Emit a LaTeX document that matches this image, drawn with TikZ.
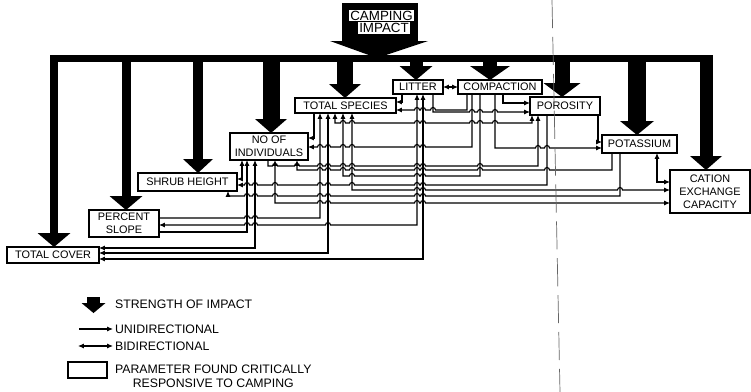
\documentclass[tikz,border=0pt]{standalone}
\usepackage{fontspec}
\setmainfont{Liberation Sans}
\usetikzlibrary{arrows.meta,calc}
\newdimen\px \px=0.02cm
\begin{document}
\begin{tikzpicture}[x=0.02cm, y=-0.02cm]
    % styles
    \tikzstyle{param}=[draw, line width=0.9pt, fill=white, inner sep=0pt, outer sep=0pt, align=center, font=\fontsize{6.2}{7.4}\selectfont]
    \tikzstyle{wire}=[line width=0.65pt, line cap=rect, >={Latex[length=3.4pt,width=3pt]}]
    \tikzstyle{legend}=[inner sep=1pt, align=center, font=\fontsize{7}{8.2}\selectfont]
    \tikzstyle{title}=[fill=white, inner sep=0.7pt, font=\fontsize{7.6}{8}\selectfont]

    \useasboundingbox (0,0) rectangle (751,392);
    \fill[white] (0,0) rectangle (751,392);

    % camping impact and the main bar
    \fill (342,3) rectangle (418,42);
    \fill (330,41) -- (428,41) -- (377,58) -- cycle;
    \node[title] (camping) at (381.5,15.5) {CAMPING};
    \node[title] (impact) at (384,28) {IMPACT};
    \fill (50,55) rectangle (712.5,62);

    % parameters
    \node[param, minimum width=92*\px, minimum height=16*\px] (cover) at (53,255) {TOTAL COVER};
    \node[param, minimum width=70*\px, minimum height=27*\px] (slope) at (124,223.5) {PERCENT\\SLOPE};
    \node[param, minimum width=99*\px, minimum height=18*\px] (shrub) at (187.5,182) {SHRUB HEIGHT};
    \node[param, minimum width=78*\px, minimum height=27*\px] (indiv) at (269,146.5) {NO OF\\INDIVIDUALS};
    \node[param, minimum width=101*\px, minimum height=15*\px] (species) at (345.5,105.5) {TOTAL SPECIES};
    \node[param, minimum width=50*\px, minimum height=14*\px] (litter) at (418,87) {LITTER};
    \node[param, minimum width=84*\px, minimum height=14*\px] (compaction) at (500,87) {COMPACTION};
    \node[param, minimum width=70*\px, minimum height=18*\px] (porosity) at (565,106) {POROSITY};
    \node[param, minimum width=75*\px, minimum height=18*\px] (potassium) at (639.5,144) {POTASSIUM};
    \node[param, minimum width=80*\px, minimum height=43*\px] (cation) at (710,191.5) {CATION\\EXCHANGE\\CAPACITY};

    % strength of impact
    \foreach \n/\x/\w/\hw in {cover/54/8/33, slope/126/9/33, shrub/198/10/30, indiv/271/17/32,
        species/345/16/32, litter/416/13/33, compaction/490/14/40, porosity/562/15/37,
        potassium/637/18/34, cation/706/13/32} {
        \fill (\n.north -| \x,0) -- ++(\hw/2,-14) -- ++(-\hw,0) -- cycle;
        \draw[line width=\w*\px] (\x,55) -- ($(\n.north -| \x,0)+(0,-13.5)$);
    }

    % links to total cover
    \draw[wire,<->] (cover.east |- 0,248) -- (255,248) -- (indiv.south -| 255,0);
    \draw[wire,<->] (cover.east |- 0,253) -- (328,253) -- (species.south -| 328,0);
    \draw[wire,<->] (cover.east |- 0,259) -- (423,259) -- (litter.south -| 423,0);
    % links to percent slope
    \draw[wire,->] (slope.east |- 0,218) \foreach \h in {247,255} {-- (\h-2.5,218) arc[start angle=180,end angle=360,radius=2.5]} -- (320,218) -- (species.south -| 320,0);
    \draw[wire,<->] (slope.east |- 0,225) \foreach \h in {247,255,328} {-- (\h-2.5,225) arc[start angle=180,end angle=360,radius=2.5]} -- (417,225) -- (litter.south -| 417,0);
    \draw[wire,->] (slope.east |- 0,232) -- (247,232) -- (indiv.south -| 247,0);
    % links to shrub height
    \draw[wire,<->] (shrub.east |- 0,179) -- (242,179) -- (indiv.south -| 242,0);
    \draw[wire,<-] (shrub.east |- 0,185) \foreach \h in {247,255,275,320,328,352,417,423} {-- (\h-2.5,185) arc[start angle=180,end angle=360,radius=2.5]} -- (547,185) -- (porosity.south -| 547,0);
    \draw[wire,<-] (shrub.south -| 228,0) -- (228,196) \foreach \h in {247,255,275,320,328,417,423} {-- (\h-2.5,196) arc[start angle=180,end angle=360,radius=2.5]} -- (620,196) -- (potassium.south -| 620,0);
    % links to no of individuals
    \draw[wire,->] (species.south -| 314,0) -- (314,138) -- (indiv.east |- 0,138);
    \draw[wire,<-] (indiv.east |- 0,147) \foreach \h in {320,328,343,352,417,423} {-- (\h-2.5,147) arc[start angle=180,end angle=360,radius=2.5]} -- (472,147) -- (compaction.south -| 472,0);
    \draw[wire,->] (indiv.south -| 268,0) -- (268,166) \foreach \h in {275,297,320,328,343,352,417,423,480} {-- (\h-2.5,166) arc[start angle=180,end angle=360,radius=2.5]} -- (538,166) -- (porosity.south -| 538,0);
    \draw[wire,<->] (indiv.south -| 275,0) -- (275,203) \foreach \h in {320,328,417,423} {-- (\h-2.5,203) arc[start angle=180,end angle=360,radius=2.5]} -- (cation.west |- 0,203);
    \draw[wire,<-] (indiv.south -| 297,0) -- (297,170) \foreach \h in {320,328,343,352,417,423,480,547} {-- (\h-2.5,170) arc[start angle=180,end angle=360,radius=2.5]} -- (612,170) -- (potassium.south -| 612,0);
    % links to total species
    \draw[wire,<->] (species.south -| 335,0) -- (335,123) \foreach \h in {343,352,417,423,472,480,495} {-- (\h-2.5,123) arc[start angle=180,end angle=360,radius=2.5]} -- (532,123) -- (porosity.south -| 532,0);
    \draw[wire,<-] (species.south -| 343,0) -- (343,176) \foreach \h in {352,417,423} {-- (\h-2.5,176) arc[start angle=180,end angle=360,radius=2.5]} -- (480,176) -- (compaction.south -| 480,0);
    \draw[wire,<->] (species.south -| 352,0) -- (352,190) \foreach \h in {417,423,620} {-- (\h-2.5,190) arc[start angle=180,end angle=360,radius=2.5]} -- (cation.west |- 0,190);
    \draw[wire,<-] (species.east |- 0,102) -- (402,102) -- (litter.south -| 402,0);
    \draw[wire,<-] (species.east |- 0,110) \foreach \h in {417,423,433} {-- (\h-2.5,110) arc[start angle=180,end angle=360,radius=2.5]} -- (467,110) -- (compaction.south -| 467,0);
    % litter, compaction, porosity, potassium
    \draw[wire,<->] (litter) -- (compaction);
    \draw[wire,->] (litter.south -| 433,0) -- (433,112) \foreach \h in {472,480,495} {-- (\h-2.5,112) arc[start angle=180,end angle=360,radius=2.5]} -- (porosity.west |- 0,112);
    \draw[wire,->] (compaction.south -| 503,0) -- (503,103) -- (porosity.west |- 0,103);
    \draw[wire,->] (compaction.south -| 495,0) -- (495,148) \foreach \h in {538,547} {-- (\h-2.5,148) arc[start angle=180,end angle=360,radius=2.5]} -- (potassium.west |- 0,148);
    \draw[wire,->] (porosity.south -| 598,0) -- (598,142) -- (potassium.west |- 0,142);
    \draw[wire,<->] (potassium.south -| 657,0) -- (657,182) -- (cation.west |- 0,182);

    % legend
    \coordinate (legtip) at (93.5,313);
    \fill (legtip) -- ++(12,-10) -- ++(-24,0) -- cycle;
    \draw[line width=13*\px] (93.5,297) -- ($(legtip)+(0,-9.5)$);
    \node[legend, anchor=west] (strength) at (113,304) {STRENGTH OF IMPACT};
    \node[legend, anchor=west] (unidir) at (113,329) {UNIDIRECTIONAL};
    \node[legend, anchor=west] (bidir) at (113,346) {BIDIRECTIONAL};
    \coordinate (unistart) at (80,329);
    \coordinate (bistart) at (78,346);
    \draw[wire,->] (unistart) -- (unidir.west);
    \draw[wire,<->] (bistart) -- (bidir.west);
    \node[param, minimum width=39*\px, minimum height=16*\px] (legbox) at (87.5,370) {};
    \node[legend, anchor=west] (legtext) at (113,376) {PARAMETER FOUND CRITICALLY\\RESPONSIVE TO CAMPING};

    % fold line of the page
    \draw[line width=0.4pt, black!60, dash pattern=on 16pt off 5pt] (552,0) -- (560,392);
\end{tikzpicture}
\end{document}
